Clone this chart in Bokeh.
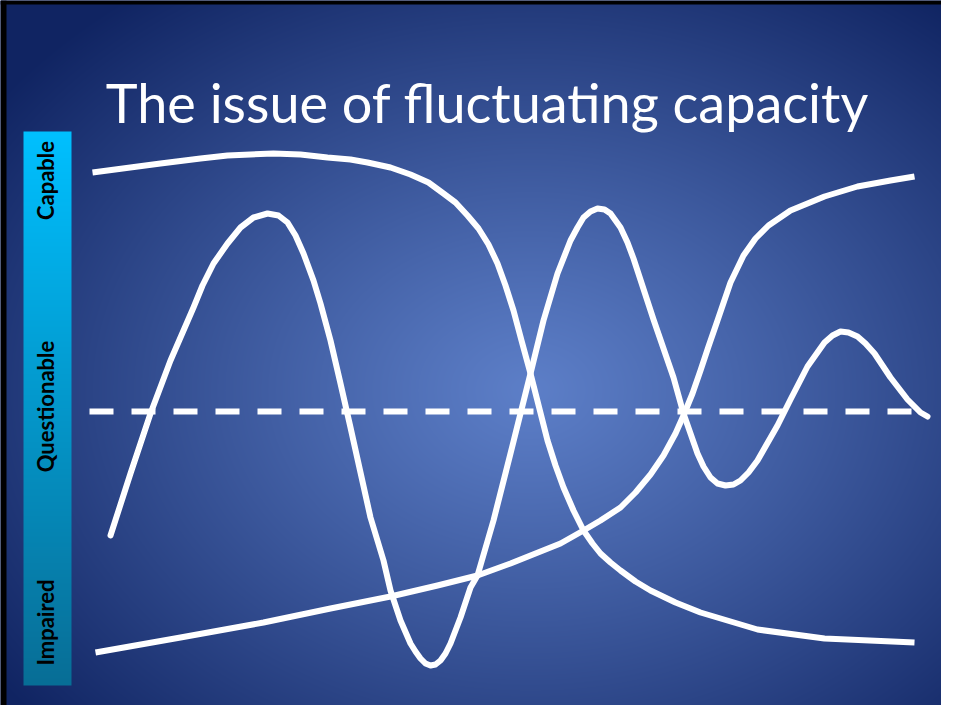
import numpy as np
from bokeh.plotting import figure
from bokeh.models import Range1d, Span
from bokeh.core.properties import value
from bokeh.embed import file_html
from bokeh.resources import INLINE

# ---------------- data ----------------
title_text = "The issue of fluctuating capacity"
level_labels = ["Capable", "Questionable", "Impaired"]
level_label_y = [533, 307, 91]
level_label_x = [45, 45, 45]

# curve that starts capable and declines
decline_t = [92, 160, 200, 227, 250, 273, 300, 327, 350, 367, 390, 410, 428, 443,
             455, 467, 478, 488, 497, 505, 513, 521, 530, 547, 555, 563, 573, 583,
             592, 600, 610, 620, 635, 650, 675, 700, 757, 824, 914]
decline_c = [541, 550, 555, 558, 559, 560, 559, 556, 554, 551, 546, 539, 531, 520,
             511, 498, 485, 469, 450, 428, 403, 373, 340, 273, 248, 226, 203, 183,
             170, 160, 151, 143, 132, 123, 111, 101, 84, 75, 71]

# curve that starts impaired and improves
improve_t = [95, 180, 263, 330, 390, 437, 477, 510, 560, 583, 600, 620, 635, 650,
             663, 675, 683, 692, 700, 708, 717, 730, 743, 755, 768, 790, 824, 857,
             890, 914]
improve_c = [61, 76, 91, 105, 117, 128, 138, 150, 170, 183, 193, 206, 221, 239,
             258, 280, 298, 320, 343, 367, 393, 431, 458, 475, 488, 503, 517, 527,
             533, 537]

# fluctuating curve
fluct_t = [110, 130, 150, 170, 193, 202, 213, 227, 240, 253, 267, 278, 287,
           295, 303, 313, 320, 330, 340, 350, 360, 370, 383, 390, 400, 410, 415, 420,
           425, 430, 435, 440, 445, 450, 460, 470, 477, 493, 510, 520, 530, 543,
           557, 570, 577, 583, 590, 597, 604, 610, 620, 627, 633, 653, 673, 683,
           697, 703, 710, 717, 725, 733, 740, 748, 757, 777, 790, 807, 824, 832,
           840, 848, 857, 865, 874, 890, 907, 920, 927]
fluct_c = [178, 240, 300, 353, 406, 428, 450, 470, 486, 496, 500, 498, 491,
           478, 460, 433, 410, 373, 330, 286, 241, 196, 153, 123, 93, 70, 62, 55,
           50, 48, 49, 53, 60, 70, 96, 126, 138, 193, 260, 300, 340, 393,
           440, 473, 486, 496, 502, 505, 504, 500, 486, 471, 455, 394, 336, 300,
           260, 247, 236, 230, 228, 229, 233, 241, 253, 288, 314, 347, 371, 378,
           382, 381, 377, 370, 360, 336, 314, 301, 297]

# threshold (questionable capacity)
threshold_t = [89, 915]
threshold_c = [302, 302]

# ---------------- figure ----------------
W, H = 941, 705
p = figure(width=W, height=H, x_range=Range1d(0, W), y_range=Range1d(8, 8 + H),
           output_backend="svg", toolbar_location=None, min_border=0,
           x_axis_location=None, y_axis_location=None)
p.grid.visible = False
p.outline_line_color = None
p.background_fill_color = "#1a2e6c"
p.border_fill_color = "#1a2e6c"

# radial background gradient
xs = np.arange(W) + 0.5
ref_y = H - (np.arange(H) + 0.5)
XX, YY = np.meshgrid(xs, ref_y)
cx, cy, rx, ry = 530.0, 390.0, 660.0, 500.0
t = np.clip(np.sqrt(((XX - cx) / rx) ** 2 + ((YY - cy) / ry) ** 2), 0, 1) ** 1.1
c0 = np.array([93, 127, 200], dtype=float)
c1 = np.array([16, 36, 98], dtype=float)
bg = np.zeros((H, W), dtype=np.uint32)
v = bg.view(dtype=np.uint8).reshape((H, W, 4))
for k in range(3):
    v[:, :, k] = (c0[k] + (c1[k] - c0[k]) * t).astype(np.uint8)
v[:, :, 3] = 255
p.image_rgba(image=[bg], x=0, y=8, dw=W, dh=H)

# frame edges (left and top dark rule)
p.add_layout(Span(location=3, dimension="height", line_color="black", line_width=6))
p.add_layout(Span(location=711, dimension="width", line_color="black", line_width=4))

# left level bar with vertical gradient
bar_h = 554
bar = np.zeros((bar_h, 2), dtype=np.uint32)
bv = bar.view(dtype=np.uint8).reshape((bar_h, 2, 4))
s = (np.arange(bar_h) / (bar_h - 1))[:, None]
top = np.array([0, 192, 255], dtype=float)
bot = np.array([8, 110, 150], dtype=float)
for k in range(3):
    bv[:, :, k] = (bot[k] + (top[k] - bot[k]) * s).astype(np.uint8)
bv[:, :, 3] = 255
p.image_rgba(image=[bar], x=23, y=28, dw=48, dh=bar_h)

# lines
p.line(threshold_t, threshold_c, line_color="white", line_width=6, line_dash="24 18",
       line_cap="butt")
p.line(decline_t, decline_c, line_color="white", line_width=6, line_cap="butt",
       line_join="round")
p.line(improve_t, improve_c, line_color="white", line_width=6, line_cap="butt",
       line_join="round")
p.line(fluct_t, fluct_c, line_color="white", line_width=6, line_cap="round",
       line_join="round")

# texts
p.text(x=[487], y=[611], text=[title_text], text_color="white",
       text_font=value("Lato"), text_font_size="54px", text_align="center",
       text_baseline="alphabetic")
p.text(x=level_label_x, y=level_label_y, text=level_labels, angle=np.pi / 2,
       text_color="black", text_font=value("Lato"), text_font_style="bold",
       text_font_size="22px", text_align="center", text_baseline="middle")

open("out.html", "w").write(file_html(p, INLINE))
